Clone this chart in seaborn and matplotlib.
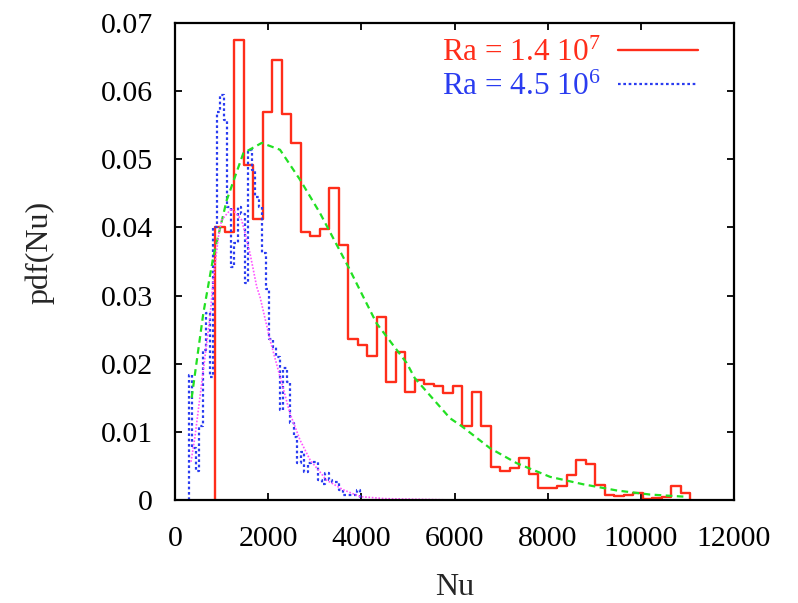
import numpy as np
import pandas as pd
import matplotlib
matplotlib.use("Agg")
import matplotlib.pyplot as plt
import seaborn as sns

# ---------------- data ----------------
red_bin_start = 860
red_bin_width = 204
red_values = [0.0401, 0.0394, 0.0675, 0.0491, 0.0413, 0.0569, 0.0645, 0.0566, 0.0524, 0.0393,
              0.0387, 0.0397, 0.0458, 0.0374, 0.0237, 0.0228, 0.0212, 0.0269, 0.0173, 0.0217,
              0.0159, 0.0176, 0.0170, 0.0168, 0.0157, 0.0168, 0.0109, 0.0159, 0.0109, 0.0048,
              0.0043, 0.0047, 0.0061, 0.0038, 0.0018, 0.0018, 0.0021, 0.0037, 0.0058, 0.0053,
              0.0022, 0.0008, 0.0006, 0.0008, 0.0011, 0.0002, 0.0003, 0.0004, 0.0021, 0.0011]

blue_bin_start = 300
blue_bin_width = 75
blue_values = [0.0183, 0.0076, 0.0042, 0.0108, 0.0220, 0.0274, 0.0181, 0.0400, 0.0570, 0.0594,
               0.0558, 0.0430, 0.0342, 0.0377, 0.0430, 0.0420, 0.0318, 0.0513, 0.0484, 0.0445,
               0.0430, 0.0362, 0.0310, 0.0236, 0.0225, 0.0210, 0.0132, 0.0193, 0.0173, 0.0113,
               0.0092, 0.0054, 0.0070, 0.0041, 0.0054, 0.0056, 0.0056, 0.0030, 0.0024, 0.0040,
               0.0030, 0.0026, 0.0026, 0.0015, 0.0007, 0.0007, 0.0008, 0.0007, 0.0015]

green_nu = [358, 608, 823, 1110, 1467, 1861, 2254, 2684, 3113, 3722, 4043, 4330, 4974, 5146,
            5904, 6161, 6763, 7336, 8051, 8767, 9482, 10198, 10913]
green_pdf = [0.0150, 0.0274, 0.0357, 0.0440, 0.0509, 0.0524, 0.0514, 0.0470, 0.0421, 0.0342,
             0.0298, 0.0259, 0.0201, 0.0179, 0.0120, 0.0108, 0.0076, 0.0054, 0.0034, 0.0023,
             0.0014, 0.0008, 0.0005]

magenta_nu = [343, 429, 537, 644, 751, 823, 930, 1002, 1217, 1431, 1610, 1754, 1825, 2040,
              2254, 2469, 2684, 2898, 3256, 3613, 3971, 4500, 6000, 8000, 10900]
magenta_pdf = [0.0056, 0.0093, 0.0152, 0.0210, 0.0269, 0.0323, 0.0386, 0.0411, 0.0428, 0.0411,
               0.0362, 0.0313, 0.0298, 0.0235, 0.0181, 0.0127, 0.0088, 0.0059, 0.0029, 0.0015,
               0.0005, 0.0002, 0.0, 0.0, 0.0]

x_ticks = [0, 2000, 4000, 6000, 8000, 10000, 12000]
x_tick_labels = ["0", "2000", "4000", "6000", "8000", "10000", "12000"]
y_ticks = [0, 0.01, 0.02, 0.03, 0.04, 0.05, 0.06, 0.07]
y_tick_labels = ["0", "0.01", "0.02", "0.03", "0.04", "0.05", "0.06", "0.07"]

label_red = "Ra = 1.4 $10^{7}$"
label_blue = "Ra = 4.5 $10^{6}$"

# ---------------- style ----------------
sns.set_theme(style="ticks")
plt.rcParams["font.family"] = ["Liberation Serif", "DejaVu Serif"]
plt.rcParams["mathtext.fontset"] = "custom"
plt.rcParams["mathtext.rm"] = "Liberation Serif"
plt.rcParams["mathtext.it"] = "Liberation Serif:italic"
plt.rcParams["mathtext.bf"] = "Liberation Serif:bold"

RED = "#ff2d1a"
BLUE = "#2a3cf0"
GREEN = "#22e022"
MAGENTA = "#ff55ff"
FS_TICK = 21.5
FS_LAB = 23
FS_LEG = 22.5

W, H = 798, 603
fig = plt.figure(figsize=(W / 100, H / 100), dpi=100)
L, R, T, B = 175, 734, 23, 500
ax = fig.add_axes([L / W, 1 - B / H, (R - L) / W, (B - T) / H])


def step_frame(start, width, values):
    edges = start + width * np.arange(len(values) + 1)
    xs = np.concatenate([[edges[0]], edges[:-1], [edges[-1]], [edges[-1]]])
    ys = np.concatenate([[0.0], values, [values[-1]], [0.0]])
    return pd.DataFrame({"Nu": xs, "pdf": ys})


red_df = step_frame(red_bin_start, red_bin_width, red_values)
blue_df = step_frame(blue_bin_start, blue_bin_width, blue_values)
green_df = pd.DataFrame({"Nu": green_nu, "pdf": green_pdf})
mag_df = pd.DataFrame({"Nu": magenta_nu, "pdf": magenta_pdf})

sns.lineplot(data=red_df, x="Nu", y="pdf", ax=ax, color=RED, lw=1.7,
             drawstyle="steps-post", estimator=None, sort=False, label=label_red)
red_line = ax.get_lines()[-1]
sns.lineplot(data=blue_df, x="Nu", y="pdf", ax=ax, color=BLUE, lw=1.6,
             drawstyle="steps-post", estimator=None, sort=False, label=label_blue)
blue_line = ax.get_lines()[-1]
blue_line.set_linestyle((0, (1.2, 1.2)))
sns.lineplot(data=green_df, x="Nu", y="pdf", ax=ax, color=GREEN, lw=1.6,
             estimator=None, sort=False)
ax.get_lines()[-1].set_linestyle((0, (3.0, 2.0)))
sns.lineplot(data=mag_df, x="Nu", y="pdf", ax=ax, color=MAGENTA, lw=1.2,
             estimator=None, sort=False)
ax.get_lines()[-1].set_linestyle((0, (1.0, 1.0)))

ax.set_xlim(0, 12000)
ax.set_ylim(0, 0.07)
ax.set_xticks(x_ticks)
ax.set_xticklabels(x_tick_labels)
ax.set_yticks(y_ticks)
ax.set_yticklabels(y_tick_labels)
ax.tick_params(direction="in", top=True, right=True, length=5, width=1.3,
               labelsize=FS_TICK, colors="black")
ax.tick_params(axis="x", pad=19)
ax.tick_params(axis="y", pad=16)
for s in ax.spines.values():
    s.set_visible(True)
    s.set_linewidth(1.6)
    s.set_color("black")

ax.set_xlabel("Nu", fontsize=FS_LAB)
ax.set_ylabel("pdf(Nu)", fontsize=FS_LAB)
ax.xaxis.set_label_coords(0.5, -0.152)
ax.yaxis.set_label_coords(-0.216, 0.52)

leg = ax.legend(handles=[red_line, blue_line], labels=[label_red, label_blue],
                loc="upper right", bbox_to_anchor=((698 - L) / (R - L), (B - 39) / (B - T)),
                borderaxespad=0, borderpad=0, frameon=False, markerfirst=False,
                handlelength=2.55, handletextpad=0.55, labelspacing=0.15, fontsize=FS_LEG,
                labelcolor=[RED, BLUE])

fig.savefig("out.png", dpi=100, facecolor="white")
